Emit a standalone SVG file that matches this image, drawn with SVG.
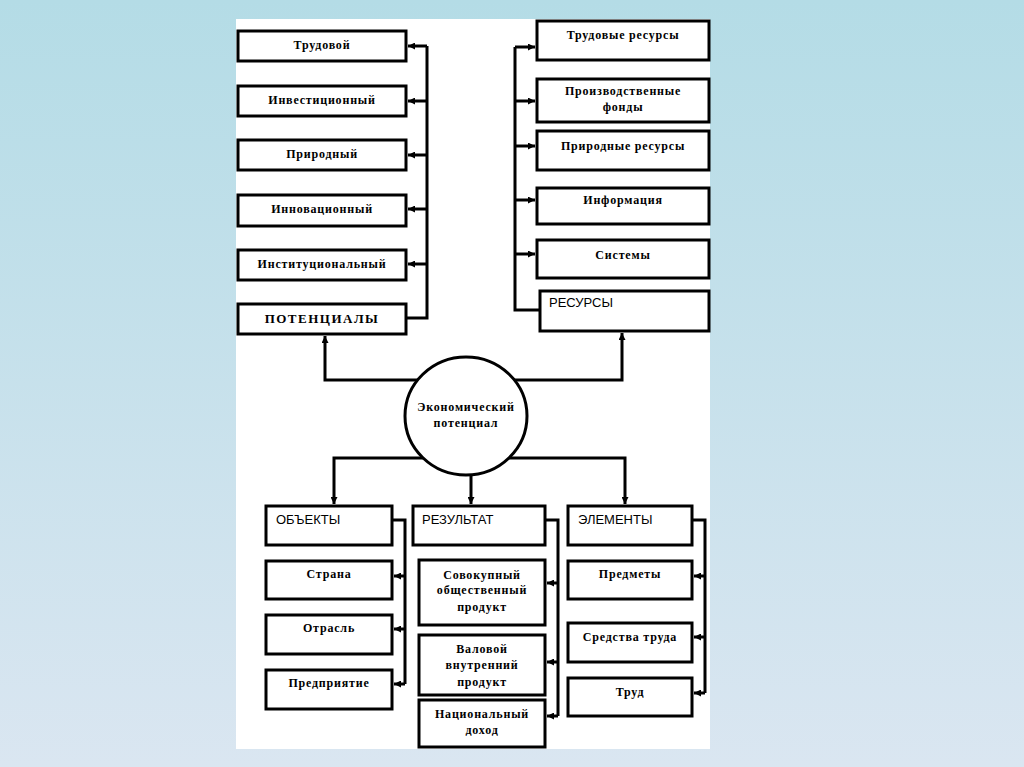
<svg xmlns="http://www.w3.org/2000/svg" width="1024" height="767" viewBox="0 0 1024 767">
<defs>
<linearGradient id="bg" x1="0" y1="0" x2="0" y2="1">
<stop offset="0" stop-color="#b4dce6"/>
<stop offset="1" stop-color="#dae6f1"/>
</linearGradient>
<marker id="ar" viewBox="0 0 8 8" refX="8" refY="4" markerWidth="7" markerHeight="7" markerUnits="userSpaceOnUse" orient="auto">
<path d="M0,0 L8,4 L0,8 z" fill="#000"/>
</marker>
</defs>
<style>
.b{fill:#fff;stroke:#000;stroke-width:3}
.t{font-family:"Liberation Serif","DejaVu Serif",serif;font-weight:bold;font-size:12px;letter-spacing:0.8px;fill:#000;text-anchor:middle}
.c{font-family:"Liberation Sans","DejaVu Sans",sans-serif;font-size:13px;fill:#000}
.p{font-family:"Liberation Serif","DejaVu Serif",serif;font-weight:bold;font-size:13px;letter-spacing:1.5px;fill:#000;text-anchor:middle}
.l{fill:none;stroke:#000;stroke-width:3}
.a{fill:none;stroke:#000;stroke-width:3;marker-end:url(#ar)}
</style>
<rect x="0" y="0" width="1024" height="767" fill="url(#bg)"/>
<rect x="236" y="19" width="474" height="730" fill="#fff"/>

<g id="connectors">
<path class="l" d="M406,318 H427 V46"/>
<path class="a" d="M427,46 H408"/>
<path class="a" d="M427,101 H408"/>
<path class="a" d="M427,155 H408"/>
<path class="a" d="M427,209 H408"/>
<path class="a" d="M427,264 H408"/>
<path class="l" d="M540,310 H515 V47"/>
<path class="a" d="M515,47 H535"/>
<path class="a" d="M515,101 H535"/>
<path class="a" d="M515,146 H535"/>
<path class="a" d="M515,200 H535"/>
<path class="a" d="M515,254 H535"/>
<path class="a" d="M418,380 H325 V336"/>
<path class="a" d="M514,380 H622 V333"/>
<path class="a" d="M423,458 H334 V504"/>
<path class="a" d="M509,458 H625 V504"/>
<path class="a" d="M471,475 V504"/>
<path class="l" d="M392,520 H405 V684"/>
<path class="a" d="M405,576 H394"/>
<path class="a" d="M405,629 H394"/>
<path class="a" d="M405,684 H394"/>
<path class="l" d="M545,520 H558 V716"/>
<path class="a" d="M558,583 H547"/>
<path class="a" d="M558,662 H547"/>
<path class="a" d="M558,716 H547"/>
<path class="l" d="M692,520 H705 V693"/>
<path class="a" d="M705,576 H694"/>
<path class="a" d="M705,637 H694"/>
<path class="a" d="M705,693 H694"/>
</g>

<g id="n-trudovoy"><rect class="b" x="238" y="31" width="168" height="30"/><text class="t" x="322" y="49">Трудовой</text></g>
<g id="n-invest"><rect class="b" x="238" y="86" width="168" height="30"/><text class="t" x="322" y="104">Инвестиционный</text></g>
<g id="n-prirodny"><rect class="b" x="238" y="140" width="168" height="30"/><text class="t" x="322" y="158">Природный</text></g>
<g id="n-innov"><rect class="b" x="238" y="195" width="168" height="31"/><text class="t" x="322" y="213">Инновационный</text></g>
<g id="n-instit"><rect class="b" x="238" y="250" width="168" height="30"/><text class="t" x="322" y="268">Институциональный</text></g>
<g id="n-potencialy"><rect class="b" x="238" y="304" width="168" height="30"/><text class="p" x="322" y="323">ПОТЕНЦИАЛЫ</text></g>

<g id="n-trud-res"><rect class="b" x="537" y="21" width="172" height="39"/><text class="t" x="623" y="39">Трудовые ресурсы</text></g>
<g id="n-proizv"><rect class="b" x="537" y="79" width="172" height="43"/><text class="t" x="623" y="95">Производственные</text><text class="t" x="623" y="111">фонды</text></g>
<g id="n-prir-res"><rect class="b" x="537" y="131" width="172" height="39"/><text class="t" x="623" y="150">Природные ресурсы</text></g>
<g id="n-inform"><rect class="b" x="537" y="188" width="172" height="36"/><text class="t" x="623" y="204">Информация</text></g>
<g id="n-sistemy"><rect class="b" x="537" y="240" width="172" height="38"/><text class="t" x="623" y="259">Системы</text></g>
<g id="n-resursy"><rect class="b" x="540" y="291" width="169" height="40"/><text class="c" x="549" y="307">РЕСУРСЫ</text></g>

<g id="n-econ"><ellipse class="b" cx="466" cy="416" rx="61" ry="59"/><text class="t" x="466" y="411">Экономический</text><text class="t" x="466" y="427">потенциал</text></g>

<g id="n-obekty"><rect class="b" x="266" y="506" width="126" height="39"/><text class="c" x="276" y="524">ОБЪЕКТЫ</text></g>
<g id="n-strana"><rect class="b" x="266" y="561" width="126" height="38"/><text class="t" x="329" y="578">Страна</text></g>
<g id="n-otrasl"><rect class="b" x="266" y="615" width="126" height="39"/><text class="t" x="329" y="632">Отрасль</text></g>
<g id="n-predpr"><rect class="b" x="266" y="670" width="126" height="39"/><text class="t" x="329" y="687">Предприятие</text></g>

<g id="n-rezultat"><rect class="b" x="413" y="506" width="132" height="39"/><text class="c" x="422" y="524">РЕЗУЛЬТАТ</text></g>
<g id="n-sovok"><rect class="b" x="419" y="560" width="126" height="65"/><text class="t" x="482" y="579">Совокупный</text><text class="t" x="482" y="594">общественный</text><text class="t" x="482" y="611">продукт</text></g>
<g id="n-valovoy"><rect class="b" x="419" y="635" width="126" height="60"/><text class="t" x="482" y="653">Валовой</text><text class="t" x="482" y="669">внутренний</text><text class="t" x="482" y="686">продукт</text></g>
<g id="n-nac"><rect class="b" x="419" y="700" width="126" height="47"/><text class="t" x="482" y="718">Национальный</text><text class="t" x="482" y="734">доход</text></g>

<g id="n-elementy"><rect class="b" x="568" y="506" width="124" height="39"/><text class="c" x="578" y="524">ЭЛЕМЕНТЫ</text></g>
<g id="n-predmety"><rect class="b" x="568" y="561" width="124" height="38"/><text class="t" x="630" y="578">Предметы</text></g>
<g id="n-sredstva"><rect class="b" x="568" y="623" width="124" height="39"/><text class="t" x="630" y="641">Средства труда</text></g>
<g id="n-trud"><rect class="b" x="568" y="678" width="124" height="38"/><text class="t" x="630" y="696">Труд</text></g>
</svg>
